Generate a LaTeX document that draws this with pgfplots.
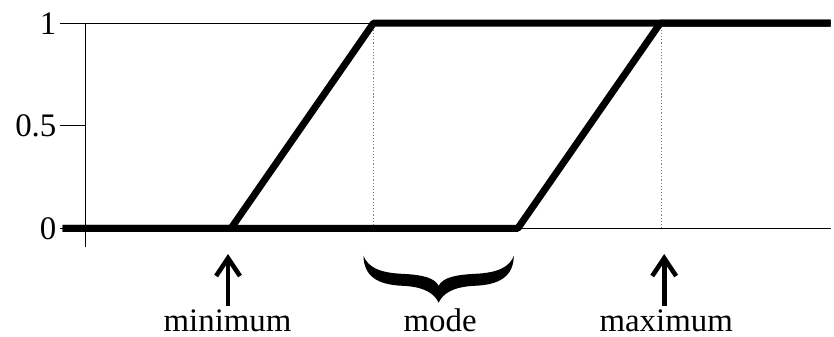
\documentclass[border=0pt]{standalone}
\usepackage{pgfplots}
\pgfplotsset{compat=1.18}
\usepackage{fontspec}
\setmainfont{Liberation Serif}
\usetikzlibrary{arrows.meta}
\begin{document}
\fontsize{16.5pt}{20pt}\selectfont
\begin{tikzpicture}
\begin{axis}[
  scale only axis, width=374pt, height=112.35pt,
  xmin=86, xmax=834, ymin=-0.0908, ymax=1,
  axis x line=none, axis y line*=left,
  clip=false,
  xtick=\empty,
  ytick={0.5}, extra y ticks={0,1}, extra y tick style={grid=major},
  tick align=outside, major tick length=13pt,
  tick style={black, line width=0.5pt},
  axis line style={line width=0.6pt},
  grid style={black, line width=0.5pt},
  /pgf/number format/assume math mode=true,
  yticklabel style={inner sep=0pt, xshift=-1.5pt},
]
\path (axis cs:0,-0.5277) rectangle (axis cs:834,1.1131);
\addplot[gray, line width=0.6pt, densely dotted] coordinates {(375,0) (375,1)};
\addplot[gray, line width=0.6pt, densely dotted] coordinates {(664,0) (664,1)};
\addplot[black, line width=3.5pt, line join=round, line cap=butt] coordinates {(63,0) (232,0) (375,1) (834,1)};
\addplot[black, line width=3.5pt, line join=round, line cap=butt] coordinates {(63,0) (520,0) (663,1) (834,1)};
\draw[line width=2.3pt, -{Straight Barb[length=9pt,width=12pt,line width=2.3pt]}] (axis cs:229,-0.377) -- (axis cs:229,-0.125);
\draw[line width=2.3pt, -{Straight Barb[length=9pt,width=12pt,line width=2.3pt]}] (axis cs:667,-0.377) -- (axis cs:667,-0.125);
\begin{scope}[shift={(axis cs:440.5,-0.1345)}]
\fill[black] (-37.75pt,0pt) .. controls (-37.5pt,-10pt) and (-31pt,-14.5pt) .. (-18pt,-15pt)
  .. controls (-7pt,-15.5pt) and (-2pt,-19pt) .. (0pt,-23.5pt)
  .. controls (2pt,-19pt) and (7pt,-15.5pt) .. (18pt,-15pt)
  .. controls (31pt,-14.5pt) and (37.5pt,-10pt) .. (37.75pt,0pt)
  .. controls (35.5pt,-5.5pt) and (30pt,-8.5pt) .. (18pt,-9pt)
  .. controls (8pt,-9.5pt) and (2pt,-11pt) .. (0pt,-15pt)
  .. controls (-2pt,-11pt) and (-8pt,-9.5pt) .. (-18pt,-9pt)
  .. controls (-30pt,-8.5pt) and (-35.5pt,-5.5pt) .. (-37.75pt,0pt) -- cycle;
\end{scope}
\node[anchor=base, inner sep=0pt] at (axis cs:228.5,-0.503) {minimum};
\node[anchor=base, inner sep=0pt] at (axis cs:442,-0.503) {mode};
\node[anchor=base, inner sep=0pt] at (axis cs:669,-0.503) {maximum};
\end{axis}
\end{tikzpicture}
\end{document}
